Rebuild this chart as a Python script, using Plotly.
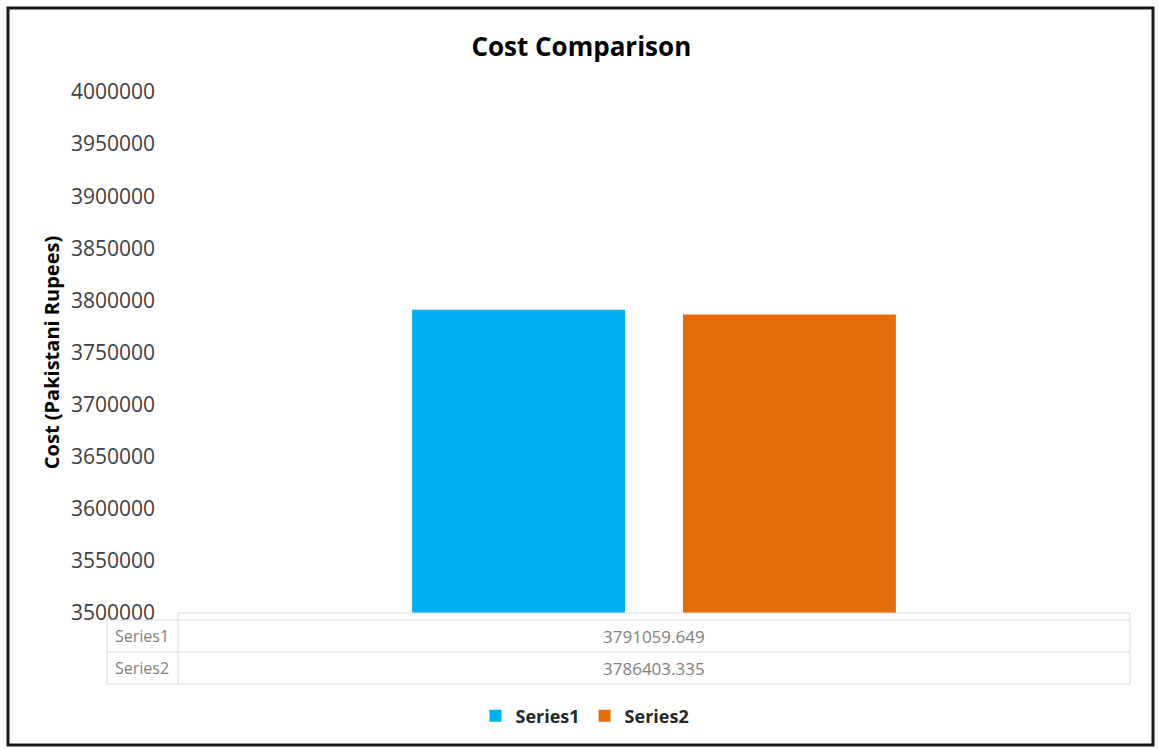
import plotly.graph_objects as go

# ---- data ----
series_names = ["Series1", "Series2"]
series_values = [3791059.649, 3786403.335]
series_colors = ["#00B0F0", "#E46C0A"]
category = [""]
y_min, y_max, y_step = 3500000, 4000000, 50000

W, H = 1158, 749
L, R, T, B = 178, 1130, 92, 613  # plot area in pixels


def px_x(px):
    return (px - L) / (R - L)


def px_y(py):
    return (B - py) / (B - T)


fig = go.Figure()
for name, val, col in zip(series_names, series_values, series_colors):
    fig.add_trace(go.Bar(x=category, y=[val], name=name, marker_color=col,
                         marker_line_width=0))

grey = "#D9D9D9"
shapes = []
# data table lines
for py in [613, 620, 652, 684]:
    x0 = 107 if py != 613 else 178
    shapes.append(dict(type="line", xref="paper", yref="paper",
                       x0=px_x(x0), x1=px_x(1130), y0=px_y(py), y1=px_y(py),
                       line=dict(color=grey, width=1)))
for px in [107, 178, 1130]:
    shapes.append(dict(type="line", xref="paper", yref="paper",
                       x0=px_x(px), x1=px_x(px), y0=px_y(613), y1=px_y(684),
                       line=dict(color=grey, width=1)))
# outer border
shapes.append(dict(type="rect", xref="paper", yref="paper",
                   x0=px_x(8), x1=px_x(1153), y0=px_y(8), y1=px_y(745),
                   line=dict(color="#1a1a1a", width=3)))

annotations = []
row_y = [636, 668]
for name, val, py in zip(series_names, series_values, row_y):
    annotations.append(dict(xref="paper", yref="paper", x=px_x(142), y=px_y(py),
                            text=name, showarrow=False,
                            font=dict(family="Open Sans", size=16, color="#7F7F7F"),
                            xanchor="center", yanchor="middle"))
    annotations.append(dict(xref="paper", yref="paper", x=0.5, y=px_y(py),
                            text=f"{val:.3f}", showarrow=False,
                            font=dict(family="Open Sans", size=17, color="#7F7F7F"),
                            xanchor="center", yanchor="middle"))

fig.update_layout(
    width=W, height=H, autosize=False,
    margin=dict(l=L, r=W - R, t=T, b=H - B),
    paper_bgcolor="white", plot_bgcolor="white",
    title=dict(text="<b>Cost Comparison</b>", x=0.502, xref="container",
               y=1 - 47 / H, yref="container", xanchor="center", yanchor="middle",
               font=dict(family="Open Sans", size=26, color="#000000")),
    barmode="group", bargap=0.431, bargroupgap=0.214,
    xaxis=dict(showticklabels=False, showgrid=False, zeroline=False,
               showline=False, ticks="", range=[-0.5, 0.5]),
    yaxis=dict(range=[y_min, y_max], dtick=y_step, tick0=y_min,
               showgrid=False, zeroline=False, showline=False, ticks="",
               tickformat="d", ticklabelstandoff=22,
               tickfont=dict(family="Open Sans", size=21, color="#404040"),
               title=dict(text="<b>Cost (Pakistani Rupees)</b>", standoff=5,
                          font=dict(family="Open Sans", size=20, color="#000000"))),
    showlegend=True,
    legend=dict(orientation="h", x=px_x(585), xanchor="center",
                y=px_y(716), yanchor="middle",
                font=dict(family="Open Sans", size=18, color="#262626", weight="bold"),
                itemsizing="constant"),
    shapes=shapes, annotations=annotations,
)

fig.write_html("out.html")
